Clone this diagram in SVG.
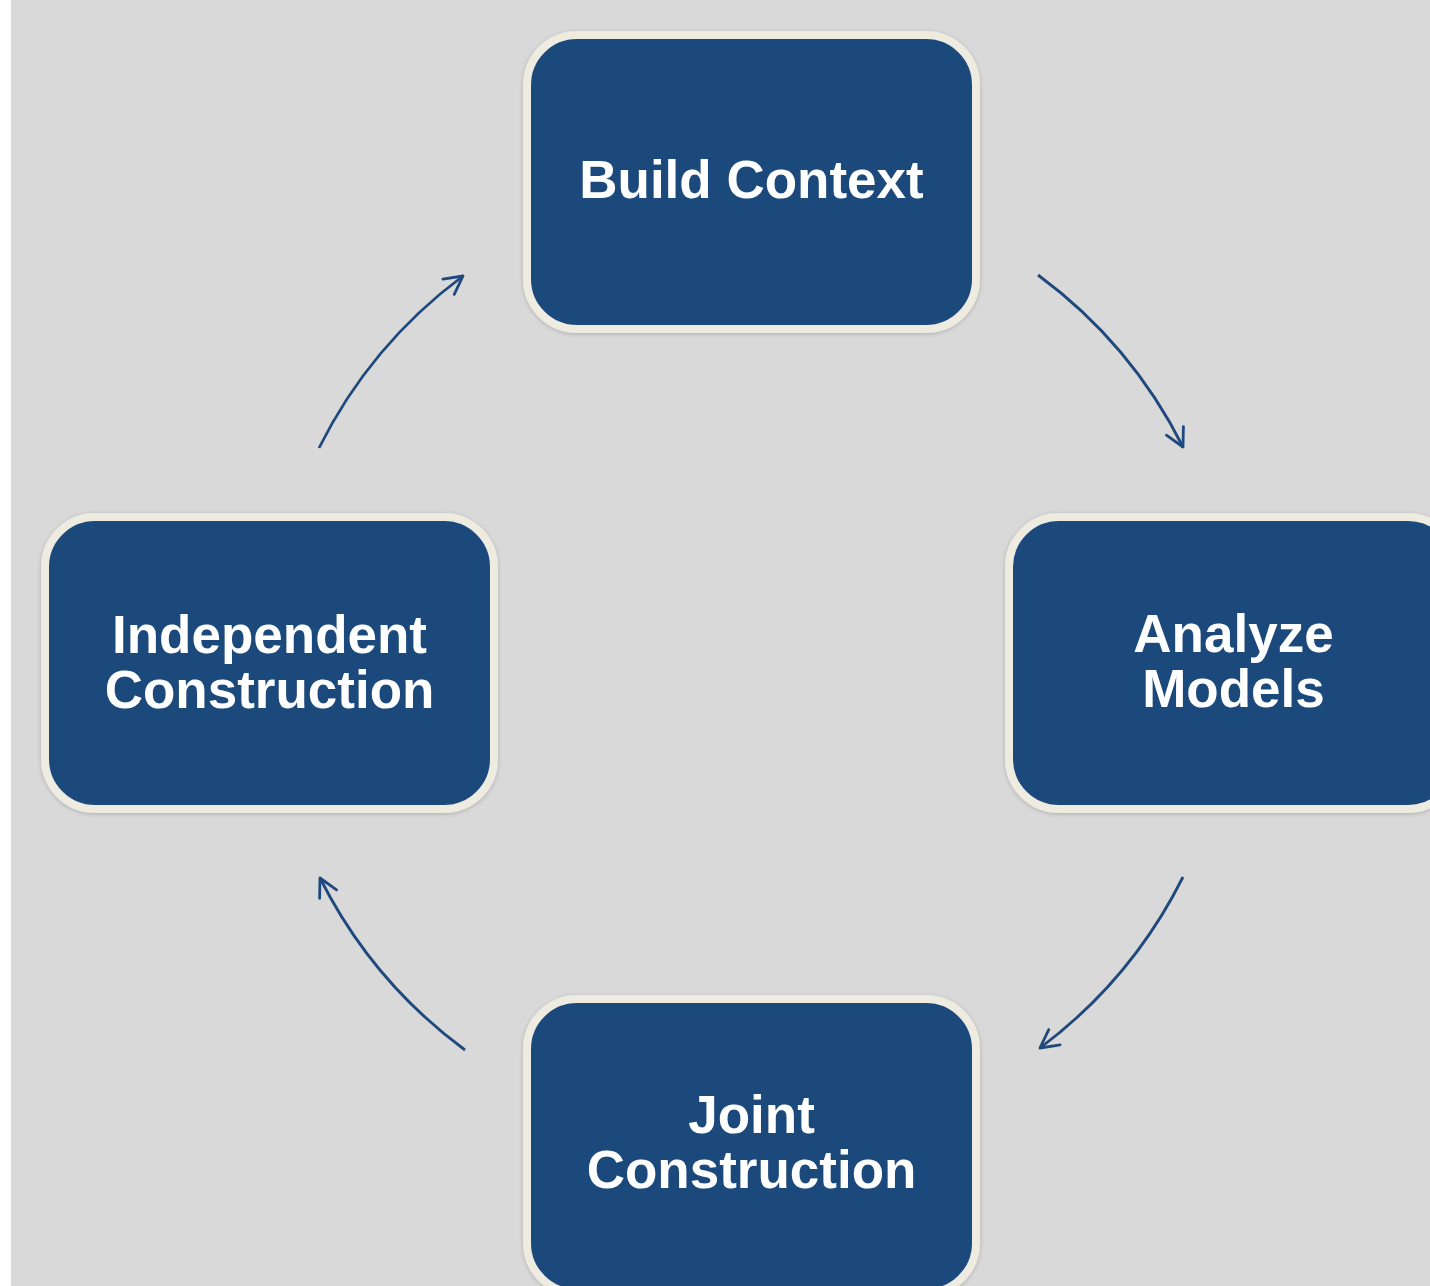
<svg xmlns="http://www.w3.org/2000/svg" width="1430" height="1286" viewBox="0 0 1430 1286">
  <style>
    .box { fill: #1f497c; stroke: #eeebe0; stroke-width: 8; filter: url(#soft); }
    .label { fill: #ffffff; font-family: "Liberation Sans", Arial, sans-serif; font-weight: bold; font-size: 53px; text-anchor: middle; }
    .arc { fill: none; stroke: #1f497d; stroke-width: 2.8; marker-end: url(#head); }
  </style>
  <defs>
    <filter id="soft" x="-10%" y="-10%" width="120%" height="120%">
      <feDropShadow dx="0" dy="1" stdDeviation="2" flood-color="#000000" flood-opacity="0.2"/>
    </filter>
    <marker id="head" markerUnits="userSpaceOnUse" viewBox="0 0 24 24" refX="20" refY="12" markerWidth="24" markerHeight="24" orient="auto">
      <path d="M2,2.5 L20,12 L2,21.5" fill="none" stroke="#1f497d" stroke-width="2.8" stroke-linecap="round" stroke-linejoin="round"/>
    </marker>
  </defs>

  <!-- page background -->
  <rect x="0" y="0" width="1430" height="1286" fill="#ffffff"/>
  <rect x="11" y="0" width="1419" height="1286" fill="#d9d9d9"/>

  <!-- cycle arrows on a circle of radius 483 around (751,663) -->
  <g id="connectors">
    <path class="arc" d="M1038,275 A483,483 0 0 1 1183,447"/>
    <path class="arc" d="M1183,877 A483,483 0 0 1 1040,1048"/>
    <path class="arc" d="M465,1050 A483,483 0 0 1 320,878"/>
    <path class="arc" d="M319,448 A483,483 0 0 1 463,276"/>
  </g>

  <g id="build-context">
    <rect class="box" x="527" y="35" width="449" height="294" rx="50" ry="50"/>
    <text class="label" x="751.5" y="198">Build Context</text>
  </g>

  <g id="analyze-models">
    <rect class="box" x="1009" y="517" width="449" height="292" rx="50" ry="50"/>
    <text class="label" x="1233.5" y="652">Analyze</text>
    <text class="label" x="1233.5" y="707">Models</text>
  </g>

  <g id="joint-construction">
    <rect class="box" x="527" y="999" width="449" height="294" rx="50" ry="50"/>
    <text class="label" x="751.5" y="1133">Joint</text>
    <text class="label" x="751.5" y="1188">Construction</text>
  </g>

  <g id="independent-construction">
    <rect class="box" x="45" y="517" width="449" height="292" rx="50" ry="50"/>
    <text class="label" x="269.5" y="653">Independent</text>
    <text class="label" x="269.5" y="708">Construction</text>
  </g>
</svg>
